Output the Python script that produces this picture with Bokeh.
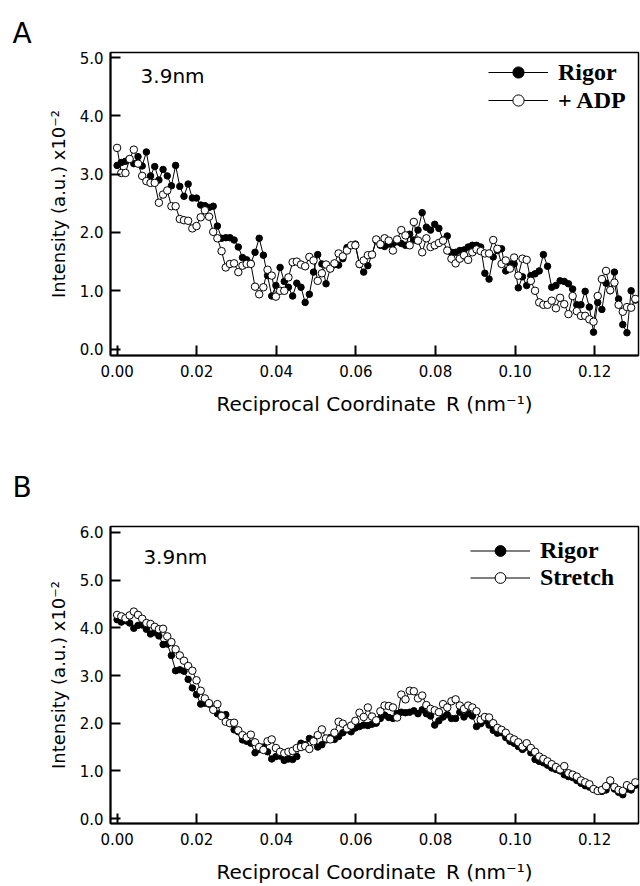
from bokeh.plotting import figure
from bokeh.models import Range1d, FixedTicker, PrintfTickFormatter, Legend, LegendItem, Label
from bokeh.layouts import column
from bokeh.embed import file_html
from bokeh.resources import INLINE

# Reciprocal coordinate R (nm^-1)
R = [0.00000, 0.00105, 0.00210, 0.00315, 0.00420, 0.00525, 0.00630, 0.00735, 0.00840, 0.00945,
     0.01050, 0.01155, 0.01260, 0.01365, 0.01470, 0.01575, 0.01680, 0.01785, 0.01890, 0.01995,
     0.02100, 0.02205, 0.02310, 0.02415, 0.02520, 0.02625, 0.02730, 0.02835, 0.02940, 0.03045,
     0.03150, 0.03255, 0.03360, 0.03465, 0.03570, 0.03675, 0.03780, 0.03885, 0.03990, 0.04095,
     0.04200, 0.04305, 0.04410, 0.04515, 0.04620, 0.04725, 0.04830, 0.04935, 0.05040, 0.05145,
     0.05250, 0.05355, 0.05460, 0.05565, 0.05670, 0.05775, 0.05880, 0.05985, 0.06090, 0.06195,
     0.06300, 0.06405, 0.06510, 0.06615, 0.06720, 0.06825, 0.06930, 0.07035, 0.07140, 0.07245,
     0.07350, 0.07455, 0.07560, 0.07665, 0.07770, 0.07875, 0.07980, 0.08085, 0.08190, 0.08295,
     0.08400, 0.08505, 0.08610, 0.08715, 0.08820, 0.08925, 0.09030, 0.09135, 0.09240, 0.09345,
     0.09450, 0.09555, 0.09660, 0.09765, 0.09870, 0.09975, 0.10080, 0.10185, 0.10290, 0.10395,
     0.10500, 0.10605, 0.10710, 0.10815, 0.10920, 0.11025, 0.11130, 0.11235, 0.11340, 0.11445,
     0.11550, 0.11655, 0.11760, 0.11865, 0.11970, 0.12075, 0.12180, 0.12285, 0.12390, 0.12495,
     0.12600, 0.12705, 0.12810, 0.12915, 0.13020]

# Panel A: Rigor vs +ADP (intensity x10^-2)
A_rigor = [3.15, 3.20, 3.22, 3.26, 3.18, 3.30, 3.14, 3.38, 2.97, 3.13,
           2.90, 3.08, 2.97, 2.80, 3.15, 2.79, 2.62, 2.83, 2.59, 2.59,
           2.47, 2.46, 2.43, 2.45, 2.11, 1.90, 1.91, 1.91, 1.87, 1.75,
           1.57, 1.53, 1.47, 1.66, 1.90, 1.61, 1.26, 0.91, 1.09, 1.40,
           1.16, 1.06, 0.91, 1.13, 1.06, 0.80, 0.94, 1.32, 1.62, 1.46,
           1.12, 1.38, 1.45, 1.44, 1.55, 1.74, 1.78, 1.80, 1.45, 1.32,
           1.43,
           1.62, 1.86, 1.78, 1.76, 1.80, 1.81, 1.84, 1.81, 1.78, 1.97,
           1.87, 2.04, 2.34, 2.09, 2.04, 2.14, 2.07, 1.87, 1.94, 1.66,
           1.66, 1.69, 1.70, 1.75, 1.78, 1.78, 1.75, 1.30, 1.20, 1.58,
           1.69, 1.72, 1.34, 1.46, 1.46, 1.05, 1.24, 1.09, 1.26, 1.29,
           1.34, 1.62, 1.42, 1.06, 1.09, 1.17, 1.16, 1.12, 1.03, 0.76,
           0.76, 0.99, 0.72, 0.29, 0.80, 0.68, 1.13, 1.00, 1.32, 0.86,
           0.42, 0.28, 1.00, 0.84]
A_adp = [3.45, 3.02, 3.02, 3.26, 3.42, 3.18,
         2.97, 2.88, 2.85, 2.85, 2.51, 2.65, 2.72, 2.45, 2.45, 2.23,
         2.21, 2.20, 2.07, 2.11, 2.26, 2.38, 2.27, 2.01, 1.90, 1.68,
         1.40, 1.46, 1.47, 1.32, 1.43, 1.46, 1.46, 1.07, 0.94, 1.06,
         1.36, 1.26, 0.90, 1.00, 1.00, 1.23, 1.49, 1.50, 1.45, 1.42,
         1.58, 1.52, 1.17, 1.30, 1.45, 1.38, 1.47, 1.64, 1.59, 1.69,
         1.78, 1.78, 1.46, 1.52, 1.61,
         1.62, 1.88, 1.80, 1.90, 1.86, 1.69, 1.88, 2.04, 1.95, 1.78,
         2.18, 1.86, 1.66, 1.90, 1.75, 1.78, 1.82, 1.86, 1.69, 1.55,
         1.47, 1.55, 1.61, 1.53, 1.66, 1.71, 1.68, 1.64, 1.64, 1.87,
         1.72, 1.46, 1.52, 1.38, 1.57, 1.26, 1.55, 1.53, 1.17, 1.00,
         0.80, 0.76, 0.76, 0.83, 0.70, 0.88, 0.77, 0.60, 0.91, 0.65,
         0.57, 0.57, 0.51, 0.47, 0.91, 1.20, 1.34, 1.01, 1.14, 0.76,
         0.64, 0.72, 0.71, 0.86]

# Panel B: Rigor vs Stretch (intensity x10^-2)
B_rigor = [4.17, 4.12, 4.15, 4.10, 3.99, 4.05, 4.06, 3.97, 3.87, 3.90,
           3.83, 3.65, 3.66, 3.42, 3.10, 3.12, 3.09, 2.92, 2.74, 2.60,
           2.40, 2.42, 2.40, 2.30, 2.20, 2.17, 2.18, 2.00, 1.86, 1.82,
           1.65, 1.62, 1.58, 1.38, 1.45, 1.50, 1.40, 1.25, 1.30, 1.31,
           1.22, 1.25, 1.24, 1.30, 1.58, 1.55, 1.68, 1.65, 1.50, 1.55,
           1.65, 1.70, 1.66, 1.72, 1.80, 1.86, 1.82, 1.90, 1.93, 1.96,
           1.95, 1.98, 2.00, 2.10, 2.17, 2.12, 2.10, 2.20, 2.23, 2.22,
           2.23, 2.26, 2.20, 2.28, 2.20, 2.15, 1.96, 2.05, 2.13, 2.18,
           2.10, 2.10, 2.23, 2.13, 2.20, 2.15, 1.93, 1.99, 2.05, 1.96,
           1.85, 1.79, 1.80, 1.70, 1.62, 1.58, 1.51, 1.45, 1.50, 1.38,
           1.24, 1.20, 1.17, 1.12, 1.06, 1.03, 1.00, 0.92, 0.88, 0.86,
           0.80, 0.74, 0.69, 0.66, 0.62, 0.58, 0.57, 0.60, 0.72, 0.62,
           0.55, 0.50, 0.62, 0.60, 0.70]
B_stretch = [4.27, 4.24, 4.20, 4.26, 4.34, 4.27, 4.19, 4.10, 4.08, 4.02,
             3.97, 3.98, 3.82, 3.70, 3.55, 3.42, 3.31, 3.20, 3.10, 2.90,
             2.68, 2.52, 2.42, 2.28, 2.40, 2.15, 2.03, 2.00, 2.01, 1.85,
             1.75, 1.70, 1.76, 1.60, 1.50, 1.44, 1.62, 1.66, 1.48, 1.40,
             1.37, 1.40, 1.42, 1.48, 1.50, 1.52, 1.46, 1.62, 1.75, 1.87,
             1.68, 1.66, 1.80, 2.03, 1.99, 1.89, 1.95, 2.05, 2.22, 2.13,
             2.33, 2.14, 2.06, 2.25, 2.37, 2.36, 2.33, 2.12, 2.60, 2.50,
             2.68, 2.67, 2.52, 2.58, 2.38, 2.30, 2.27, 2.23, 2.40, 2.33,
             2.46, 2.50, 2.37, 2.30, 2.37, 2.33, 2.25, 2.07, 2.13, 2.12,
             2.00, 1.90, 1.86, 1.80, 1.70, 1.66, 1.60, 1.51, 1.58, 1.48,
             1.40, 1.30, 1.25, 1.20, 1.14, 1.08, 1.03, 1.10, 0.95, 0.92,
             0.88, 0.80, 0.76, 0.72, 0.62, 0.58, 0.60, 0.68, 0.80, 0.66,
             0.60, 0.58, 0.70, 0.66, 0.76]

X_TICKS = [0.0, 0.02, 0.04, 0.06, 0.08, 0.10, 0.12]

SANS = "DejaVu Sans"
SERIF = "Liberation Serif"


def make_panel(letter, y_filled, y_open, open_name, y_max, y_range, height,
               border_top, border_bottom, title_standoff, legend_loc, row_h, tag_xy):
    p = figure(width=640, height=height, output_backend="svg", toolbar_location=None,
               x_range=Range1d(-0.00166, 0.1310), y_range=Range1d(*y_range),
               min_border_left=110, min_border_right=2,
               min_border_top=border_top, min_border_bottom=border_bottom)
    p.background_fill_color = "white"
    p.border_fill_color = "white"
    p.outline_line_color = "black"
    p.outline_line_width = 1.5
    p.xgrid.visible = False
    p.ygrid.visible = False

    p.title.text = letter
    p.title.align = "left"
    p.title.offset = -98
    p.title.text_font = SANS
    p.title.text_font_size = "28px"
    p.title.text_font_style = "normal"
    p.title.text_color = "black"
    p.title.standoff = title_standoff

    for ax in (p.xaxis[0], p.yaxis[0]):
        ax.axis_line_width = 2
        ax.axis_line_color = "black"
        ax.major_tick_in = 10
        ax.major_tick_out = 0
        ax.major_tick_line_width = 2
        ax.minor_tick_in = 0
        ax.minor_tick_out = 0
        ax.major_label_text_font = SANS
        ax.major_label_text_font_size = "15px"
        ax.major_label_text_font_style = "normal"
        ax.major_label_text_color = "black"
        ax.axis_label_text_font = SANS
        ax.axis_label_text_font_style = "normal"
        ax.axis_label_text_color = "black"

    p.xaxis.ticker = FixedTicker(ticks=X_TICKS)
    p.xaxis.formatter = PrintfTickFormatter(format="%.2f")
    p.xaxis.major_label_standoff = 9
    p.xaxis.axis_label = "Reciprocal Coordinate\u2002R (nm\u207b\u00b9)"
    p.xaxis.axis_label_text_font_size = "20px"
    p.xaxis.axis_label_standoff = 12

    p.yaxis.ticker = FixedTicker(ticks=list(range(0, y_max + 1)))
    p.yaxis.formatter = PrintfTickFormatter(format="%.1f")
    p.yaxis.major_label_standoff = 7
    p.yaxis.axis_label = "Intensity (a.u.) x10\u207b\u00b2"
    p.yaxis.axis_label_text_font_size = "18px"
    p.yaxis.axis_label_standoff = 8

    lf = p.line(R, y_filled, line_color="black", line_width=1)
    sf = p.scatter(R, y_filled, size=6.5, marker="circle", fill_color="black",
                   line_color="black", line_width=1)
    lo = p.line(R, y_open, line_color="black", line_width=1)
    so = p.scatter(R, y_open, size=7.5, marker="circle", fill_color="white",
                   line_color="black", line_width=1)

    legend = Legend(items=[LegendItem(label="Rigor", renderers=[lf, sf]),
                           LegendItem(label=open_name, renderers=[lo, so])],
                    location=legend_loc)
    legend.border_line_color = None
    legend.background_fill_alpha = 0
    legend.label_text_font = SERIF
    legend.label_text_font_size = "24px"
    legend.label_text_font_style = "bold"
    legend.label_text_color = "black"
    legend.glyph_width = 60
    legend.glyph_height = row_h
    legend.label_height = row_h
    legend.spacing = 0
    legend.padding = 0
    legend.margin = 0
    legend.label_standoff = 10
    p.add_layout(legend, "center")

    p.add_layout(Label(x=tag_xy[0], y=tag_xy[1], text="3.9nm", text_font=SANS,
                       text_font_size="20px", text_color="black",
                       text_baseline="middle", text_align="left"))
    return p


pA = make_panel("A", A_rigor, A_adp, "+ ADP", 5, (-0.11, 5.086), 440,
                52, 85, 6, (378, 241), 28, (0.0059, 4.69))
pB = make_panel("B", B_rigor, B_stretch, "Stretch", 6, (-0.103, 6.124), 446,
                86, 58, 45, (360, 232), 27, (0.0066, 5.48))

layout = column(pA, pB, spacing=0)
open("out.html", "w").write(file_html(layout, INLINE))
